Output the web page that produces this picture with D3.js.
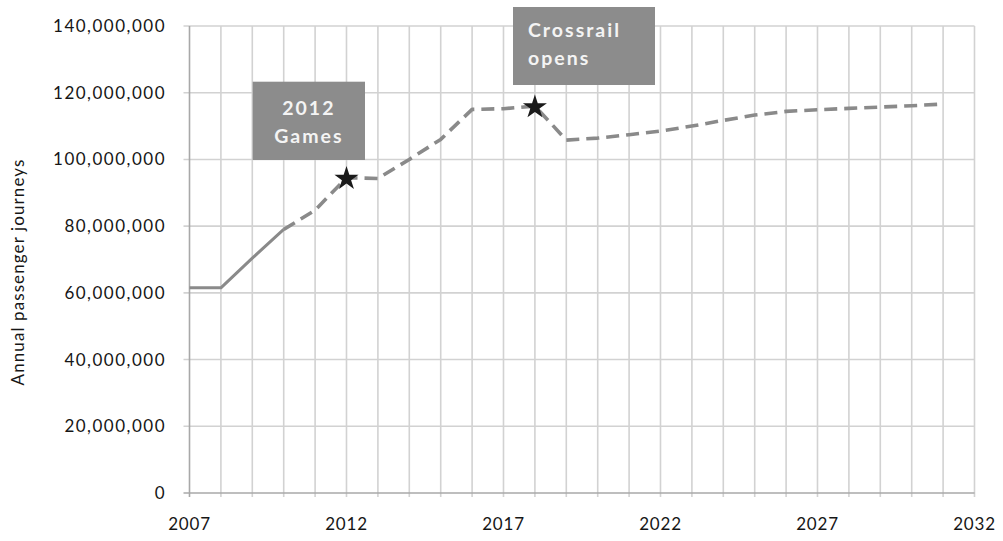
<!DOCTYPE html>
<html>
<head>
<meta charset="utf-8">
<script src="https://cdn.jsdelivr.net/npm/d3@7"></script>
<style>
  html, body { margin: 0; padding: 0; background: #ffffff; }
  svg { display: block; }
  text { font-family: Lato, "Open Sans", sans-serif; }
</style>
</head>
<body>
<svg id="chart" width="1003" height="541"></svg>
<script>
// Annual passenger journeys, actual and forecast
const actualYears = [2007, 2008, 2009, 2010];
const actualValues = [61.5, 61.5, 70.4, 79.0]; // millions

const forecastYears = [2010, 2011, 2012, 2013, 2014, 2015, 2016, 2017, 2018, 2019, 2020,
  2021, 2022, 2023, 2024, 2025, 2026, 2027, 2028, 2029, 2030, 2031];
const forecastValues = [79.0, 84.8, 94.5, 94.3, 100.0, 106.0, 115.0, 115.2, 116.0, 105.8, 106.4,
  107.4, 108.5, 110.0, 111.7, 113.3, 114.4, 114.9, 115.3, 115.7, 116.1, 116.6]; // millions

const yTicks = [0, 20, 40, 60, 80, 100, 120, 140]; // millions
const xTicks = [2007, 2012, 2017, 2022, 2027, 2032];

const milestoneYears = [2012, 2018];
const milestoneLines = [["2012", "Games"], ["Crossrail", "opens"]];

const svg = d3.select("#chart");
const plotLeft = 189.5, plotRight = 974.5, plotTop = 26, plotBottom = 493;

const x = d3.scaleLinear().domain([2007, 2032]).range([plotLeft, plotRight]);
const y = d3.scaleLinear().domain([0, 140]).range([plotBottom, plotTop]);

const gridColor = "#d2d2d2";
const axisColor = "#a8a8a8";
const fmt = v => d3.format(",")(v * 1e6);

// vertical gridlines, one per year
const g = svg.append("g");
g.selectAll("line.vg").data(d3.range(2008, 2033)).enter().append("line")
  .attr("x1", d => x(d)).attr("x2", d => x(d))
  .attr("y1", plotTop).attr("y2", plotBottom + 4)
  .attr("stroke", gridColor).attr("stroke-width", 1.6);

// horizontal gridlines
g.selectAll("line.hg").data(yTicks.filter(d => d > 0)).enter().append("line")
  .attr("x1", plotLeft - 6).attr("x2", plotRight)
  .attr("y1", d => y(d)).attr("y2", d => y(d))
  .attr("stroke", gridColor).attr("stroke-width", 1.6);

// axes
g.append("line").attr("x1", plotLeft).attr("x2", plotLeft).attr("y1", plotTop).attr("y2", plotBottom + 4)
  .attr("stroke", axisColor).attr("stroke-width", 1.6);
g.append("line").attr("x1", plotLeft - 6).attr("x2", plotRight).attr("y1", plotBottom).attr("y2", plotBottom)
  .attr("stroke", axisColor).attr("stroke-width", 1.6);

// y tick labels
svg.append("g").selectAll("text").data(yTicks).enter().append("text")
  .attr("x", 166).attr("y", d => y(d))
  .attr("dy", "0.35em")
  .attr("text-anchor", "end")
  .attr("font-size", 17)
  .attr("letter-spacing", 1.5)
  .attr("fill", "#161616")
  .text(d => d === 0 ? "0" : fmt(d));

// x tick labels
svg.append("g").selectAll("text").data(xTicks).enter().append("text")
  .attr("x", d => x(d)).attr("y", 530)
  .attr("text-anchor", "middle")
  .attr("font-size", 17)
  .attr("letter-spacing", 0.8)
  .attr("fill", "#161616")
  .text(d => d);

// y axis title
svg.append("text")
  .attr("transform", `translate(24,${272}) rotate(-90)`)
  .attr("text-anchor", "middle")
  .attr("font-size", 17)
  .attr("letter-spacing", 1.1)
  .attr("fill", "#161616")
  .text("Annual passenger journeys");

// actual (solid) and forecast (dashed) lines
const line = d3.line().x(d => x(d[0])).y(d => y(d[1]));
svg.append("path")
  .datum(actualYears.map((yr, i) => [yr, actualValues[i]]))
  .attr("d", line)
  .attr("fill", "none").attr("stroke", "#8a8a8a").attr("stroke-width", 3)
  .attr("stroke-linejoin", "round");
svg.append("path")
  .datum(forecastYears.map((yr, i) => [yr, forecastValues[i]]))
  .attr("d", line)
  .attr("fill", "none").attr("stroke", "#8a8a8a").attr("stroke-width", 3.6)
  .attr("stroke-dasharray", "13,7")
  .attr("stroke-linejoin", "round");

// milestone callout boxes
const boxes = [
  { x0: 252.7, y0: 81.7, w: 112.3, h: 78.3, anchor: "middle", ty: 26 },
  { x0: 513, y0: 7, w: 142, h: 78, anchor: "start", ty: 23 }
];
milestoneYears.forEach((yr, i) => {
  const b = boxes[i];
  svg.append("rect")
    .attr("x", b.x0).attr("y", b.y0).attr("width", b.w).attr("height", b.h)
    .attr("fill", "#8c8c8c");
  const tx = b.anchor === "middle" ? b.x0 + b.w / 2 : b.x0 + 15;
  milestoneLines[i].forEach((t, j) => {
    svg.append("text")
      .attr("x", tx).attr("y", b.y0 + b.ty + j * 28)
      .attr("dy", "0.35em")
      .attr("text-anchor", b.anchor)
      .attr("font-size", 19.5)
      .attr("font-weight", 700)
      .attr("letter-spacing", 2)
      .attr("fill", "#f4f4f4")
      .text(t);
  });
});

// stars on the milestone points
const valueAt = yr => forecastValues[forecastYears.indexOf(yr)];
svg.append("g").selectAll("path").data(milestoneYears).enter().append("path")
  .attr("transform", d => `translate(${x(d)},${y(valueAt(d)) + 1})`)
  .attr("d", d3.symbol().type(d3.symbolStar).size(180))
  .attr("fill", "#1a1a1a");
</script>
</body>
</html>
